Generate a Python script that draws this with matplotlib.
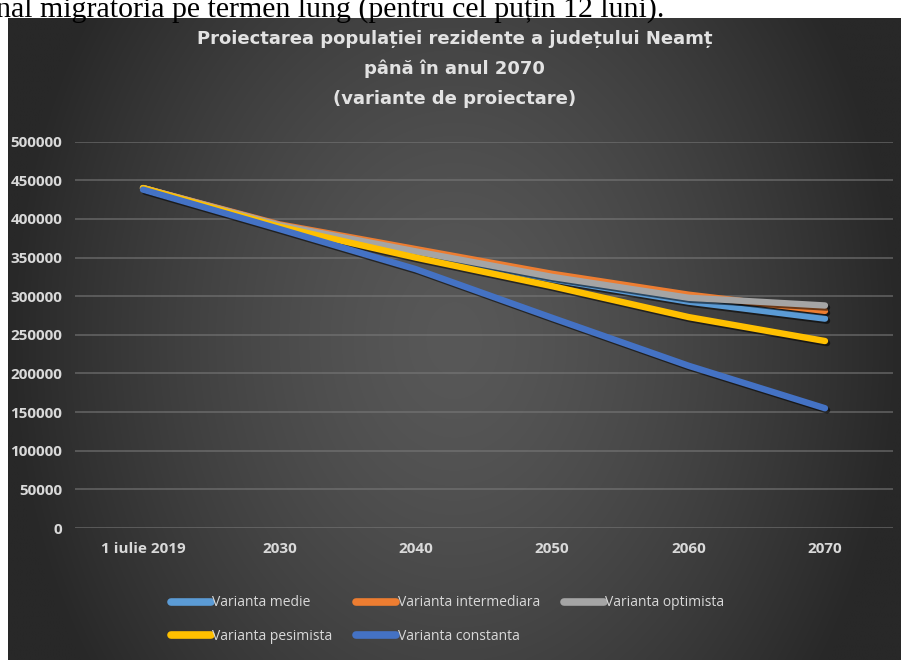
import matplotlib

matplotlib.use("Agg")
import matplotlib.pyplot as plt
import matplotlib.patheffects as pe
import numpy as np

# values
categories = ["1 iulie 2019", "2030", "2040", "2050", "2060", "2070"]
medie = [440000, 392000, 356000, 322000, 293000, 271000]
intermediara = [440000, 393000, 361000, 329000, 302000, 281000]
optimista = [440000, 392000, 358000, 325000, 298000, 288000]
pesimista = [440000, 390000, 350000, 313000, 273000, 242000]
constanta = [438000, 387000, 335000, 272000, 210000, 155000]

series = [
    ("Varianta medie", medie, "#5B9BD5"),
    ("Varianta intermediara", intermediara, "#ED7D31"),
    ("Varianta optimista", optimista, "#A5A5A5"),
    ("Varianta pesimista", pesimista, "#FFC000"),
    ("Varianta constanta", constanta, "#4472C4"),
]

title = "Proiectarea populației rezidente a județului Neamț\npână în anul 2070\n(variante de proiectare)"
page_text = "nal migratoria pe termen lung (pentru cel puțin 12 luni)."

W, H = 901, 660
fig = plt.figure(figsize=(W / 100, H / 100), dpi=100)
fig.patch.set_facecolor("white")

# leftover line of the document the chart was cut from
fig.text(-4 / W, 1 - 17 / H, page_text, family="Liberation Serif", fontsize=21.5,
         color="black", ha="left", va="baseline")

# dark chart area with a soft radial gradient
bg = fig.add_axes([8 / W, 0, (W - 8) / W, (H - 18) / H])
gx, gy = np.meshgrid(np.linspace(-1, 1, 400), np.linspace(-1, 1, 300))
t = np.clip(np.sqrt(gx ** 2 + (0.55 * gy) ** 2), 0, 1) ** 1.4
c0, c1 = np.array([0x58, 0x58, 0x58]) / 255, np.array([0x28, 0x28, 0x28]) / 255
img = c0 + (c1 - c0) * t[..., None]
bg.imshow(img, aspect="auto", extent=[0, 1, 0, 1], interpolation="bilinear")
bg.set_axis_off()

ax = fig.add_axes([74.8 / W, (H - 528) / H, 818.4 / W, (528 - 141.7) / H])
ax.set_facecolor("none")
x = np.arange(len(categories))
lines = {}
for name, vals, col in series:
    (ln,) = ax.plot(x, vals, color=col, lw=4.6, solid_capstyle="round", solid_joinstyle="round",
                    label=name, zorder=3,
                    path_effects=[pe.SimpleLineShadow(offset=(1.5, -1.5), shadow_color="black", alpha=0.55),
                                  pe.Normal()])
    lines[name] = ln

ax.set_xlim(-0.5, len(categories) - 0.5)
ax.set_ylim(0, 500000)
ax.set_yticks(np.arange(0, 500001, 50000))
ax.set_xticks(x)
ax.set_xticklabels(categories)
ax.yaxis.grid(True, color="#7a7a7a", lw=1.3, alpha=0.6)
ax.set_axisbelow(True)
for s in ax.spines.values():
    s.set_visible(False)
ax.tick_params(length=0, colors="#d9d9d9", labelsize=11)
ax.tick_params(axis="y", pad=9)
ax.tick_params(axis="x", pad=10)
for lab in ax.get_xticklabels() + ax.get_yticklabels():
    lab.set_family(["Open Sans", "DejaVu Sans"])
    lab.set_fontweight("bold")

fig.text(454.5 / W, 1 - 69 / H, title, ha="center", va="center", color="#e2e2e2",
         fontsize=13, fontweight="bold", linespacing=1.85, family=["DejaVu Sans"])

# legend laid out row-wise like the original (matplotlib fills columns first)
order = ["Varianta medie", "Varianta pesimista", "Varianta intermediara",
         "Varianta constanta", "Varianta optimista"]
leg = fig.legend([lines[n] for n in order], order, ncol=3, loc="upper left",
                 bbox_to_anchor=(158 / W, 1 - 583 / H), frameon=False,
                 prop={"family": ["Open Sans", "DejaVu Sans"], "size": 10},
                 labelcolor="#d9d9d9", handlelength=2.9, handletextpad=0.1,
                 columnspacing=1.7, labelspacing=1.3)
for h in leg.get_lines():
    h.set_linewidth(5.5)
    h.set_path_effects([])

fig.savefig("out.png", dpi=100)
